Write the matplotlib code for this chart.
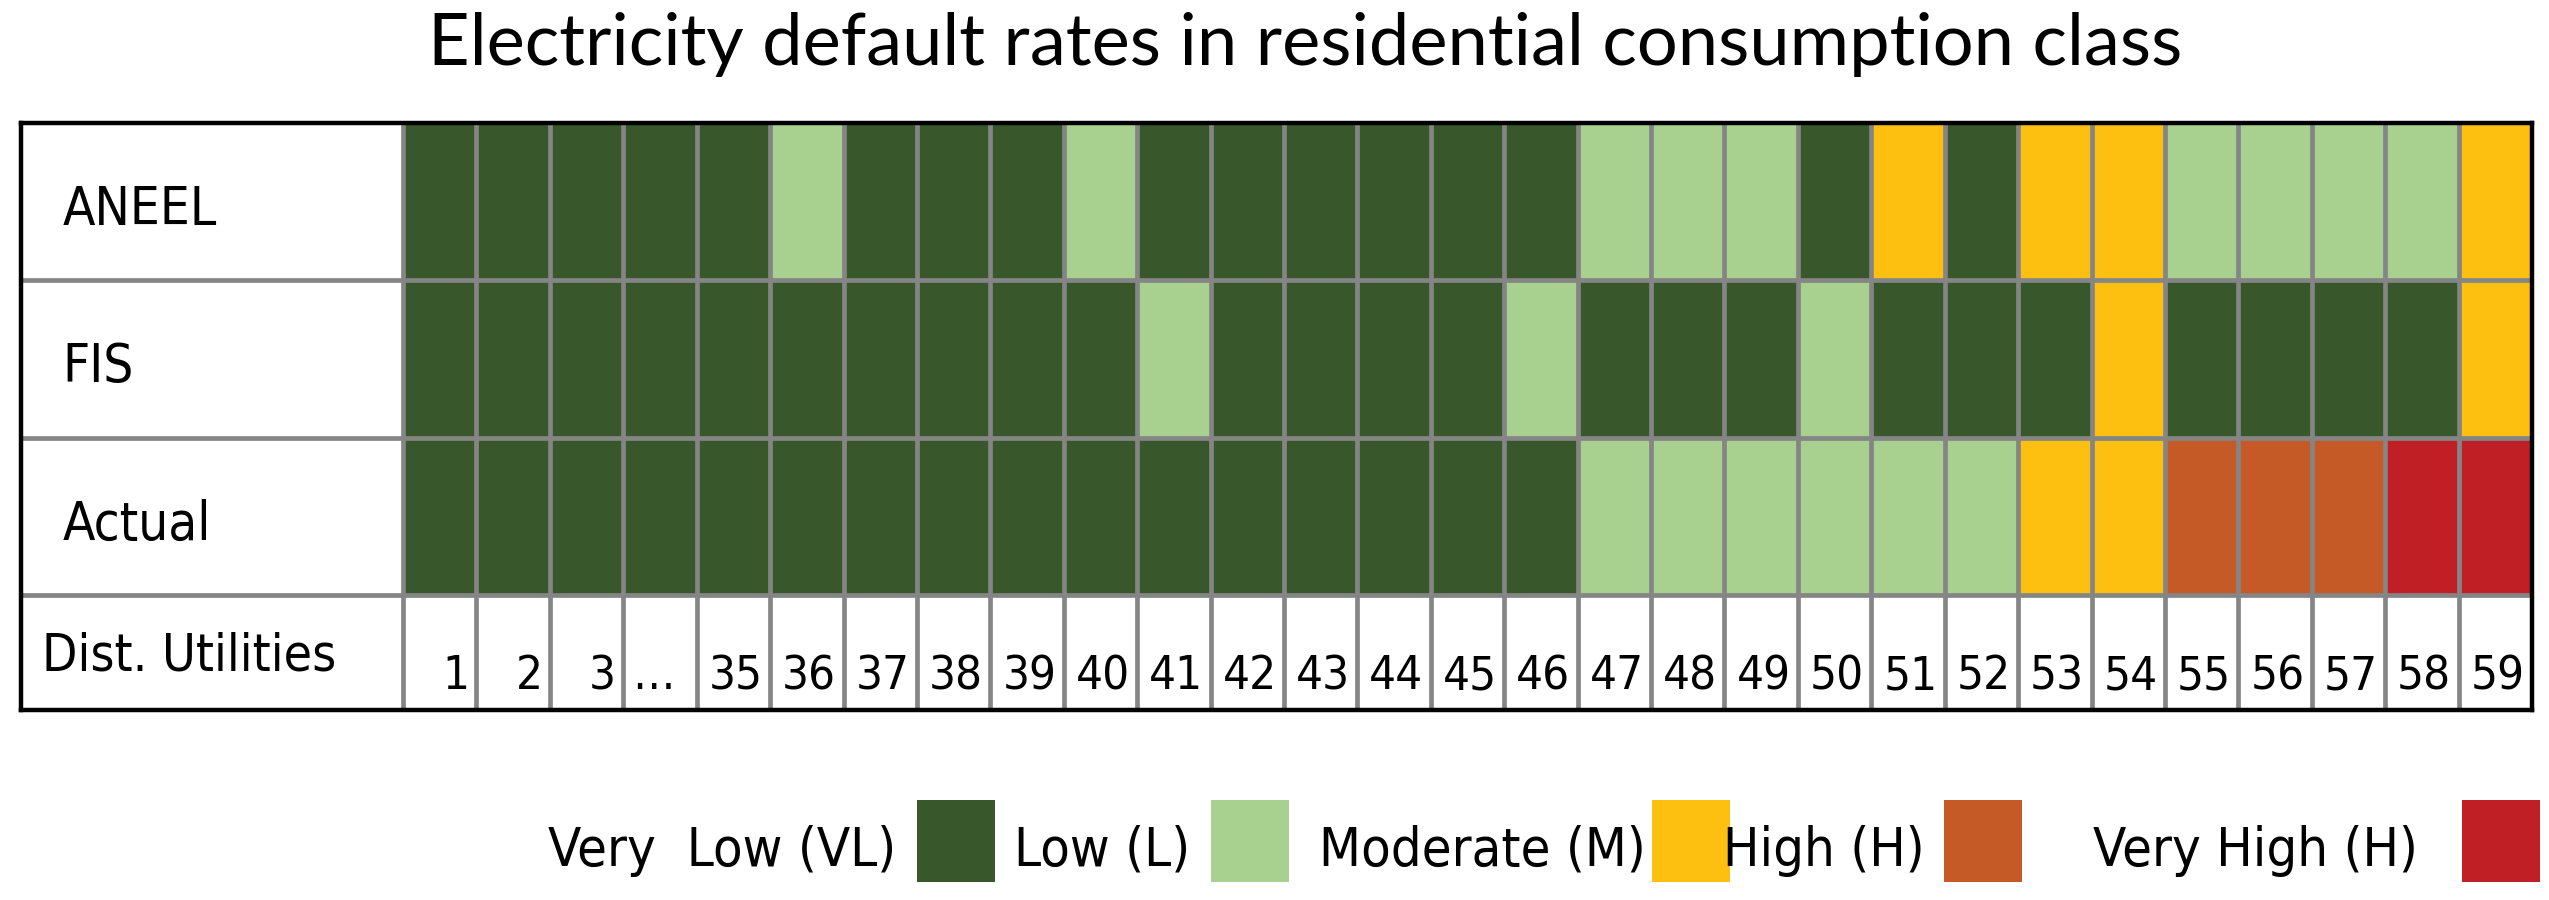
import numpy as np
import matplotlib
matplotlib.use("Agg")
import matplotlib.pyplot as plt
from matplotlib.colors import ListedColormap, BoundaryNorm
from matplotlib.patches import Rectangle

# ---- data ----
title = "Electricity default rates in residential consumption class"
row_names = ["ANEEL", "FIS", "Actual"]
utilities = ["1", "2", "3", "\u2026"] + [str(n) for n in range(35, 60)]

# 0 = VL, 1 = L, 2 = M, 3 = H, 4 = VH
aneel = [0, 0, 0, 0, 0, 1, 0, 0, 0, 1, 0, 0, 0, 0, 0, 0, 1, 1, 1, 0, 2, 0, 2, 2, 1, 1, 1, 1, 2]
fis = [0, 0, 0, 0, 0, 0, 0, 0, 0, 0, 1, 0, 0, 0, 0, 1, 0, 0, 0, 1, 0, 0, 0, 2, 0, 0, 0, 0, 2]
actual = [0, 0, 0, 0, 0, 0, 0, 0, 0, 0, 0, 0, 0, 0, 0, 0, 1, 1, 1, 1, 1, 1, 2, 2, 3, 3, 3, 4, 4]

level_labels = ["Very  Low (VL)", "Low (L)", "Moderate (M)", "High (H)", "Very High (H)"]
level_colors = ["#38572B", "#A8D08E", "#FDC010", "#C65A27", "#BF1F25"]

narrow = dict(family="DejaVu Sans", fontstretch="condensed")
grid_col = "#858585"

W, H = 2549, 900
fig = plt.figure(figsize=(W / 100, H / 100), dpi=100)

fig.text(1305 / W, 1 - 65 / H, title, ha="center", va="baseline",
         fontsize=52, family=["Lato", "DejaVu Sans"])

# table axes: x in column units, y in row units
n_cols = len(utilities)
label_w = 382 / 73.4          # width of the label column in column units
num_h = 115 / 157             # height of the utilities row in row units
ax = fig.add_axes([21 / W, (900 - 710) / H, 2511 / W, 587 / H])

levels = np.array([aneel, fis, actual])
cmap = ListedColormap(level_colors)
norm = BoundaryNorm(np.arange(-0.5, 5.5), cmap.N)
ax.pcolormesh(np.arange(n_cols + 1), np.arange(len(row_names) + 1), levels,
              cmap=cmap, norm=norm)

ax.set_xlim(-label_w, n_cols)
ax.set_ylim(len(row_names) + num_h, 0)

# inner grid lines
for y in range(1, len(row_names) + 1):
    ax.plot([-label_w, n_cols], [y, y], color=grid_col, lw=3.4, solid_capstyle="butt")
for x in range(0, n_cols):
    ax.plot([x, x], [0, len(row_names) + num_h], color=grid_col, lw=3.4, solid_capstyle="butt")

for s in ax.spines.values():
    s.set_linewidth(3.2)
    s.set_color("black")
ax.set_xticks([])
ax.set_yticks([])

# row labels
for i, name in enumerate(row_names):
    ax.text(-label_w + 0.57, i + 0.65, name, ha="left", va="baseline",
            fontsize=38, **narrow)
ax.text(-label_w + 0.28, len(row_names) + 0.484, "Dist. Utilities", ha="left",
        va="baseline", fontsize=37, **narrow)

# utility numbers
for j, lab in enumerate(utilities):
    if lab == "\u2026":
        ax.text(j + 0.12, len(row_names) + 0.6, lab, ha="left", va="baseline",
                fontsize=34, **narrow)
    else:
        ax.text(j + 1 - 0.1, len(row_names) + 0.6, lab, ha="right", va="baseline",
                fontsize=34, **narrow)

# legend: label text followed by a colour swatch
text_right = [896, 1190, 1646, 1925, 2418]
box_left = [917, 1211, 1652, 1944, 2462]
for lab, col, tr, bl in zip(level_labels, level_colors, text_right, box_left):
    fig.text(tr / W, 1 - 866 / H, lab, ha="right", va="baseline",
             fontsize=39, **narrow)
    fig.patches.append(Rectangle((bl / W, 1 - 882 / H), 78 / W, 82 / H,
                                 transform=fig.transFigure, facecolor=col,
                                 edgecolor="none"))

fig.savefig("out.png", dpi=100)
